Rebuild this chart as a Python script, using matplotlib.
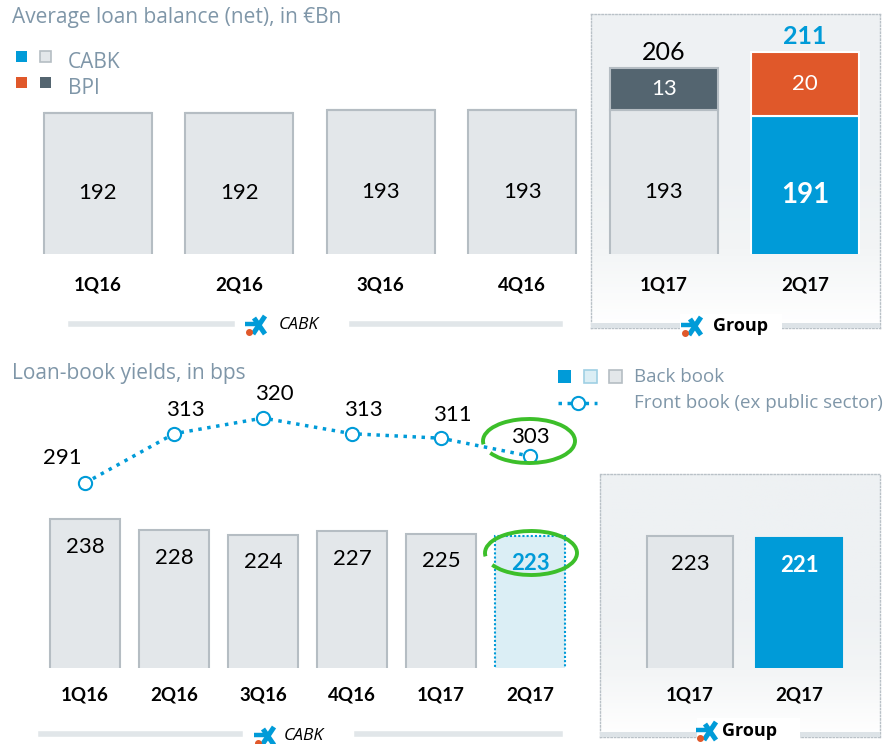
import numpy as np
import matplotlib.pyplot as plt
from matplotlib.patches import Rectangle, Arc
from matplotlib.lines import Line2D

# data
top_quarters = ["1Q16", "2Q16", "3Q16", "4Q16", "1Q17", "2Q17"]
top_cabk = [192, 192, 193, 193, 193, 191]
top_bpi = [0, 0, 0, 0, 13, 20]
top_total = [192, 192, 193, 193, 206, 211]

yield_quarters = ["1Q16", "2Q16", "3Q16", "4Q16", "1Q17", "2Q17"]
back_book = [238, 228, 224, 227, 225, 223]
front_book = [291, 313, 320, 313, 311, 303]
group_quarters = ["1Q17", "2Q17"]
group_back_book = [223, 221]

BLUE = "#009bd8"
ORANGE = "#e0582a"
SLATE = "#546570"
LGRAY = "#e3e7ea"
EDGE = "#b5bdc3"
LBLUE = "#dbeef5"
TITLE = "#7f96a8"
NUM = "Lato"
TXT = "Open Sans"

W, H = 884, 744
fig = plt.figure(figsize=(W / 100, H / 100), dpi=100)


def px_axes(l, t, w, h):
    return fig.add_axes([l / W, 1 - (t + h) / H, w / W, h / H])


def fx(x):
    return x / W


def fy(y):
    return 1 - y / H


def prect(x, y, w, h, **kw):
    fig.patches.append(Rectangle((fx(x), fy(y + h)), w / W, h / H,
                                 transform=fig.transFigure, **kw))


def pline(xs, ys, **kw):
    fig.lines.append(Line2D([fx(x) for x in xs], [fy(y) for y in ys],
                            transform=fig.transFigure, **kw))


def ptext(x, y, s, **kw):
    fig.text(fx(x), fy(y), s, **kw)


def logo(cx, cy):
    pline([cx - 3, cx + 9], [cy + 9, cy - 9], color=BLUE, lw=3.6, solid_capstyle="butt")
    pline([cx - 2, cx + 9], [cy - 7, cy + 9], color=BLUE, lw=3.6, solid_capstyle="butt")
    pline([cx - 11, cx + 2], [cy - 1, cy - 1], color=BLUE, lw=3.2, solid_capstyle="butt")
    pline([cx - 7], [cy + 7], marker="o", ms=4, color=ORANGE, lw=0)


def group_box(l, t, r, b):
    bg = px_axes(l, t, r - l, b - t)
    grad = np.linspace(0, 1, 100)[:, None]
    bg.imshow(grad, aspect="auto", extent=(0, 1, 0, 1), origin="upper",
              cmap=plt.matplotlib.colors.LinearSegmentedColormap.from_list(
                  "g", ["#eef1f3", "#eef1f3", "#eef1f3", "#f3f5f6", "#ffffff"]))
    bg.set_xlim(0, 1)
    bg.set_ylim(0, 1)
    for s in bg.spines.values():
        s.set_color("#b9c1c7")
        s.set_linestyle((0, (1, 1.5)))
        s.set_linewidth(1)
    bg.set_xticks([])
    bg.set_yticks([])
    return bg


# group backgrounds
group_box(591, 14, 880, 328)
group_box(600, 474, 880, 737)
prect(591, 323, 289, 5, color="#dde3e7", lw=0)
prect(600, 732, 280, 5, color="#dde3e7", lw=0)

# ---------------- top panel ----------------
ax = px_axes(27, 20, 849, 234)
x = np.arange(len(top_quarters))
bw = 0.76
cab_col = [LGRAY] * 5 + [BLUE]
cab_edge = [EDGE] * 5 + ["white"]
bpi_col = [SLATE] * 5 + [ORANGE]
ax.bar(x, top_cabk, bw, bottom=0, color=cab_col, edgecolor=cab_edge, linewidth=1.5, zorder=2)
ax.bar(x, top_bpi, bw, bottom=top_cabk, color=bpi_col, edgecolor=cab_edge,
       linewidth=1.5, zorder=2)
ax.set_xlim(-0.5, 5.5)
ax.set_ylim(148, 148 + 234 / 3.2)
for i, v in enumerate(top_cabk):
    mid = (148 + v) / 2 - 3
    if i == 5:
        ax.text(i, mid, str(v), ha="center", va="center", fontsize=20,
                fontweight="bold", color="white", family=NUM)
    else:
        ax.text(i, mid, str(v), ha="center", va="center", fontsize=16,
                color="black", family=NUM)
for i, v in enumerate(top_bpi):
    if v:
        ax.text(i, top_cabk[i] + v / 2, str(v), ha="center", va="center",
                fontsize=16, color="white", family=NUM)
ax.text(4, top_total[4] + 1.3, str(top_total[4]), ha="center", va="bottom",
        fontsize=18, color="black", family=NUM)
ax.text(5, top_total[5] + 1.3, str(top_total[5]), ha="center", va="bottom",
        fontsize=18, fontweight="bold", color=BLUE, family=NUM)
ax.set_xticks(x, top_quarters, fontsize=13.5, fontweight="bold", family=NUM)
ax.tick_params(axis="x", length=0, pad=16)
ax.set_yticks([])
for s in ax.spines.values():
    s.set_visible(False)
ax.patch.set_alpha(0)

ptext(12, 18, "Average loan balance (net), in €Bn", fontsize=15, color=TITLE,
      family=TXT, va="center")
prect(16, 51, 11, 11, color=BLUE, lw=0)
prect(40, 51, 11, 11, facecolor=LGRAY, edgecolor=EDGE, lw=1.2)
prect(16, 77, 11, 11, color=ORANGE, lw=0)
prect(40, 77, 11, 11, color=SLATE, lw=0)
ptext(68, 62, "CABK", fontsize=15, color=TITLE, family=TXT, va="center")
ptext(68, 88, "BPI", fontsize=15, color=TITLE, family=TXT, va="center")

pline([71, 232], [324, 324], color="#e1e6e9", lw=4)
pline([352, 560], [324, 324], color="#e1e6e9", lw=4)
logo(256, 325)
ptext(279, 325, "CABK", fontsize=12.5, style="italic", family=TXT, va="center")

prect(680, 314, 102, 30, color="white", lw=0)
logo(692, 326)
ptext(713, 326, "Group", fontsize=13, fontweight="bold", family=TXT, va="center")

# ---------------- bottom panel ----------------
bx = px_axes(40.5, 470, 534, 198)
xb = np.arange(len(yield_quarters))
bcol = [LGRAY] * 5 + [LBLUE]
bedge = [EDGE] * 5 + [BLUE]
bars = bx.bar(xb, back_book, 0.78, color=bcol, edgecolor=bedge, linewidth=1.5, zorder=2)
bars[-1].set_linestyle((0, (1, 1)))
bx.set_xlim(-0.5, 5.5)
bx.set_ylim(106, 106 + 198 / 1.13)
for i, v in enumerate(back_book):
    if i == 5:
        bx.annotate(str(v), (i, v), xytext=(0, -20), textcoords="offset points",
                    ha="center", va="center", fontsize=16, fontweight="bold",
                    color=BLUE, family=NUM)
    else:
        bx.annotate(str(v), (i, v), xytext=(0, -20), textcoords="offset points",
                    ha="center", va="center", fontsize=16, color="black", family=NUM)
bx.set_xticks(xb, yield_quarters, fontsize=13.5, fontweight="bold", family=NUM)
bx.tick_params(axis="x", length=0, pad=13)
bx.set_yticks([])
for s in bx.spines.values():
    s.set_visible(False)
bx.patch.set_alpha(0)

gx = px_axes(635.5, 470, 218, 198)
xg = np.arange(len(group_quarters))
gx.bar(xg, group_back_book, 0.78, color=[LGRAY, BLUE], edgecolor=[EDGE, BLUE],
       linewidth=1.5, zorder=2)
gx.set_xlim(-0.5, 1.5)
gx.set_ylim(106, 106 + 198 / 1.13)
gx.annotate(str(group_back_book[0]), (0, group_back_book[0]), xytext=(0, -20),
            textcoords="offset points", ha="center", va="center", fontsize=16,
            color="black", family=NUM)
gx.annotate(str(group_back_book[1]), (1, group_back_book[1]), xytext=(0, -20),
            textcoords="offset points", ha="center", va="center", fontsize=16,
            fontweight="bold", color="white", family=NUM)
gx.set_xticks(xg, group_quarters, fontsize=13.5, fontweight="bold", family=NUM)
gx.tick_params(axis="x", length=0, pad=13)
gx.set_yticks([])
for s in gx.spines.values():
    s.set_visible(False)
gx.patch.set_alpha(0)

lx = px_axes(40.5, 380, 534, 120)
lx.plot(xb, front_book, color=BLUE, lw=2.5, ls=(0, (1, 1.6)), marker="o", ms=9.5,
        mfc="white", mec=BLUE, mew=1.5, zorder=3)
lx.set_xlim(-0.5, 5.5)
lx.set_ylim(291 - 17 / 2.24, 291 - 17 / 2.24 + 120 / 2.24)
for i, v in enumerate(front_book):
    dx, dy = (8, 17) if 0 < i < 5 else ((-16, 18) if i == 0 else (0, 14))
    lx.annotate(str(v), (i, v), xytext=(dx, dy), textcoords="offset points",
                ha="center", va="center", fontsize=16, color="black", family=NUM)
lx.axis("off")
lx.patch.set_alpha(0)

ptext(12, 374, "Loan-book yields, in bps", fontsize=15, color=TITLE, family=TXT,
      va="center")
prect(558, 370, 13, 13, color=BLUE, lw=0)
prect(584, 370, 13, 13, facecolor=LBLUE, edgecolor="#9fd0e4", lw=1.2)
prect(609, 370, 13, 13, facecolor=LGRAY, edgecolor=EDGE, lw=1.2)
ptext(634, 377, "Back book", fontsize=13.5, color=TITLE, family=TXT, va="center")
pline([558, 597], [403, 403], color=BLUE, lw=2.5, ls=(0, (1, 1.6)))
pline([578], [403], marker="o", ms=9.5, mfc="white", mec=BLUE, mew=1.5, lw=0)
ptext(634, 403, "Front book (ex public sector)", fontsize=13.5, color=TITLE,
      family=TXT, va="center")

# hand-drawn green circles
for cx, cy in [(529, 441), (531, 553)]:
    fig.patches.append(Arc((fx(cx), fy(cy)), 92 / W, 44 / H, theta1=200, theta2=545,
                           transform=fig.transFigure, color="#3cbf2a", lw=2.8))

pline([41, 240], [734, 734], color="#e1e6e9", lw=4)
pline([357, 560], [734, 734], color="#e1e6e9", lw=4)
logo(265, 736)
ptext(284, 736, "CABK", fontsize=12.5, style="italic", family=TXT, va="center")

prect(697, 718, 103, 26, color="white", lw=0)
logo(707, 731)
ptext(722, 731, "Group", fontsize=13, fontweight="bold", family=TXT, va="center")

fig.savefig("out.png", dpi=100)
